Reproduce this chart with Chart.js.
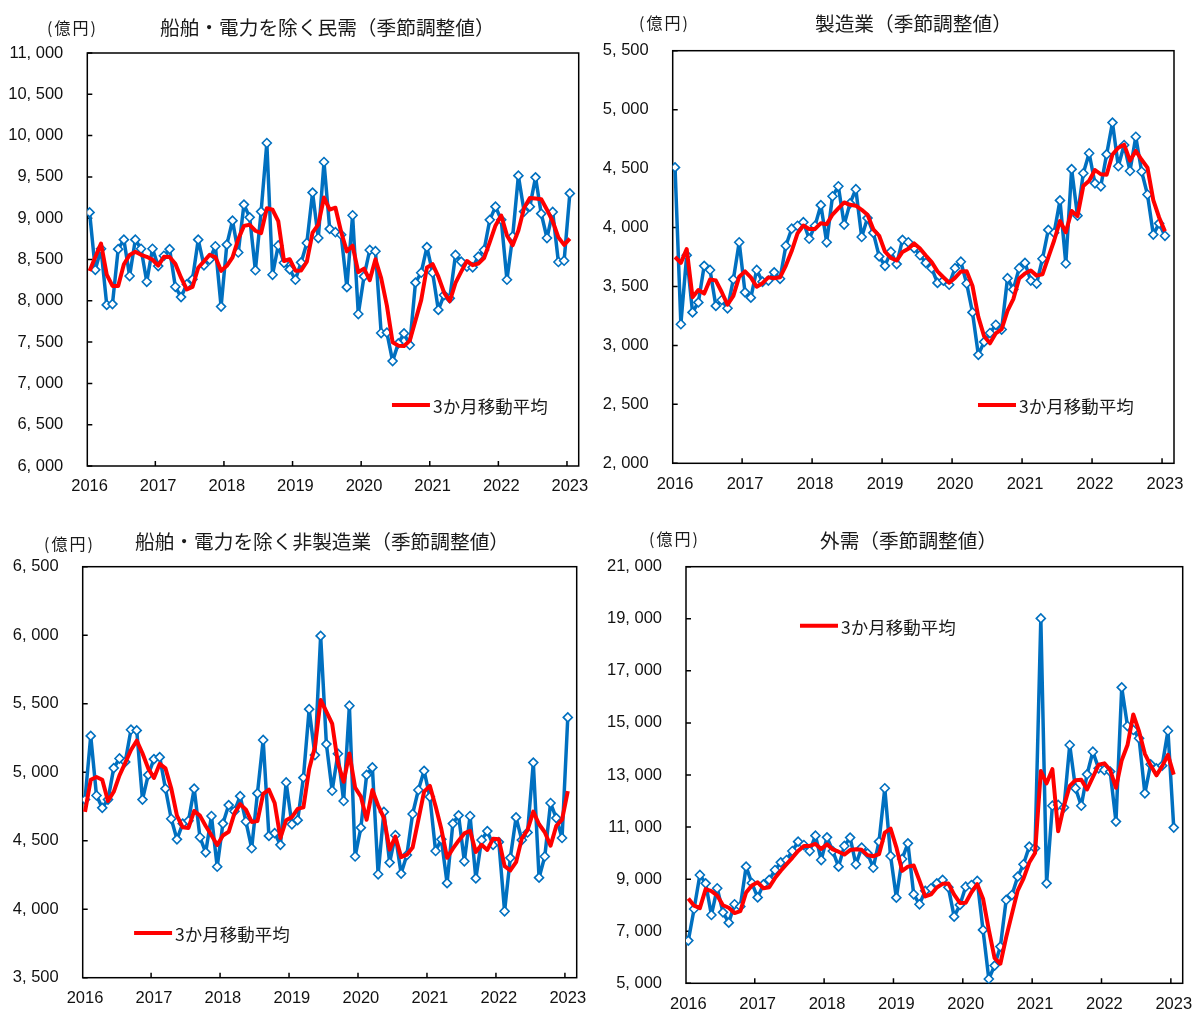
<!DOCTYPE html>
<html lang="ja">
<head>
<meta charset="utf-8">
<title>機械受注</title>
<script src="https://cdn.jsdelivr.net/npm/chart.js@4.4.1/dist/chart.umd.min.js"></script>
<style>
  body { margin: 0; background: #fff; }
  #page { position: relative; width: 1194px; height: 1009px; overflow: hidden; background: #fff; }
  canvas { position: absolute; }
  .title, .unit { position: absolute; white-space: nowrap; line-height: 1; color: #1a1a1a;
                  font-family: "Noto Sans CJK JP", sans-serif; z-index: 2; }
  .title { font-size: 19.7px; }
  .unit { font-size: 16px; letter-spacing: 2px; }
</style>
</head>
<body>
<div id="page">
  <div class="unit" style="left:47px;top:19px">(億円)</div>
  <div class="title" style="left:160px;top:17px">船舶・電力を除く民需（季節調整値）</div>
  <div class="unit" style="left:639px;top:14px">(億円)</div>
  <div class="title" style="left:815px;top:13px">製造業（季節調整値）</div>
  <div class="unit" style="left:44px;top:535px">(億円)</div>
  <div class="title" style="left:135px;top:531px">船舶・電力を除く非製造業（季節調整値）</div>
  <div class="unit" style="left:649px;top:530px">(億円)</div>
  <div class="title" style="left:820px;top:530px">外需（季節調整値）</div>

  <canvas id="c1" width="597" height="480" style="left:0;top:30px"></canvas>
  <canvas id="c2" width="597" height="480" style="left:597px;top:30px"></canvas>
  <canvas id="c3" width="597" height="469" style="left:0;top:540px"></canvas>
  <canvas id="c4" width="597" height="469" style="left:597px;top:540px"></canvas>
</div>
<script>
// 2016年1月〜2023年1月の月次（85か月）
const years = ['2016', '2017', '2018', '2019', '2020', '2021', '2022', '2023'];
const avgLabel = '3か月移動平均';

// 船舶・電力を除く民需
const minjuValues = [
  9070, 8375, 8630, 7950, 7960, 8625, 8740, 8300, 8740, 8630, 8230, 8630,
  8420, 8545, 8625, 8170, 8045, 8200, 8260, 8740, 8430, 8500, 8660, 7930,
  8680, 8970, 8585, 9165, 9010, 8370, 9080, 9910, 8315, 8670, 8460, 8380,
  8255, 8465, 8700, 9310, 8760, 9680, 8870, 8830, 8800, 8165, 9035, 7840,
  8295, 8615, 8600, 7610, 7615, 7270, 7485, 7605, 7465, 8220, 8340, 8650,
  8340, 7890, 8070, 8030, 8555, 8475, 8415, 8405, 8535, 8615, 8980, 9140,
  8980, 8255, 8780, 9515, 9080, 9140, 9495, 9055, 8760, 9075, 8470, 8485,
  9300
];
const minjuAvg = [
  8360, 8530, 8692, 8318, 8180, 8178, 8442, 8555, 8593, 8557, 8533, 8497,
  8427, 8532, 8530, 8447, 8280, 8138, 8168, 8400, 8477, 8557, 8530, 8363,
  8423, 8527, 8745, 8907, 8920, 8848, 8820, 9120, 9102, 8965, 8482, 8503,
  8365, 8367, 8473, 8825, 8923, 9250, 9103, 9127, 8833, 8598, 8667, 8347,
  8390, 8250, 8503, 8275, 7942, 7498, 7457, 7453, 7518, 7763, 8008, 8403,
  8443, 8293, 8100, 7997, 8218, 8353, 8482, 8432, 8452, 8518, 8710, 8912,
  9033, 8792, 8672, 8850, 9125, 9245, 9238, 9230, 9103, 8963, 8768, 8677,
  8752
];

// 製造業
const seizoValues = [
  4510, 3180, 3765, 3280, 3365, 3675, 3640, 3335, 3385, 3315, 3560, 3875,
  3450, 3405, 3640, 3540, 3550, 3620, 3565, 3845, 3990, 4015, 4045, 3905,
  4015, 4190, 3875, 4265, 4350, 4025, 4205, 4325, 3920, 4080, 3955, 3755,
  3675, 3795, 3690, 3895, 3875, 3825, 3765, 3700, 3655, 3530, 3550, 3515,
  3655, 3710, 3525, 3280, 2920, 3030, 3105, 3175, 3135, 3570, 3475, 3655,
  3700, 3550, 3525, 3735, 3980, 3955, 4230, 3695, 4495, 4100, 4460, 4630,
  4375, 4350, 4620, 4890, 4520, 4700, 4480, 4770, 4475, 4280, 3940, 4035,
  3930
];
const seizoAvg = [
  3750, 3700, 3818, 3408, 3470, 3440, 3560, 3550, 3453, 3345, 3420, 3583,
  3628, 3577, 3498, 3528, 3577, 3570, 3578, 3677, 3800, 3950, 4017, 3988,
  3988, 4037, 4027, 4110, 4163, 4213, 4193, 4185, 4150, 4108, 3985, 3930,
  3795, 3742, 3720, 3793, 3820, 3865, 3822, 3763, 3707, 3628, 3578, 3532,
  3573, 3627, 3630, 3505, 3242, 3077, 3018, 3103, 3138, 3293, 3393, 3567,
  3610, 3635, 3592, 3603, 3747, 3890, 4055, 3960, 4140, 4097, 4352, 4397,
  4488, 4452, 4448, 4620, 4677, 4703, 4567, 4650, 4575, 4508, 4232, 4085,
  3968
];

// 船舶・電力を除く非製造業
const hiseizoValues = [
  4800, 5265, 4830, 4740, 4800, 5030, 5100, 5075, 5310, 5305, 4800, 4980,
  5095, 5110, 4880, 4660, 4510, 4625, 4645, 4880, 4525, 4415, 4680, 4310,
  4625, 4760, 4715, 4825, 4640, 4445, 4845, 5235, 4535, 4555, 4470, 4925,
  4620, 4650, 4960, 5460, 5125, 5995, 5205, 4865, 5135, 4790, 5485, 4385,
  4595, 4980, 5035, 4255, 4710, 4340, 4540, 4260, 4395, 4695, 4870, 5010,
  4820, 4425, 4510, 4190, 4625, 4685, 4350, 4680, 4225, 4505, 4570, 4470,
  4490, 3985, 4375, 4670, 4505, 4560, 5070, 4230, 4385, 4775, 4665, 4520,
  5400
];
const hiseizoAvg = [
  4710, 4945, 4965, 4945, 4790, 4857, 4977, 5068, 5162, 5230, 5138, 5028,
  4958, 5062, 5028, 4883, 4683, 4598, 4593, 4717, 4683, 4607, 4540, 4468,
  4538, 4565, 4700, 4767, 4727, 4637, 4643, 4842, 4872, 4775, 4520, 4650,
  4672, 4732, 4743, 5023, 5182, 5527, 5442, 5355, 5068, 4930, 5137, 4887,
  4822, 4653, 4870, 4757, 4667, 4435, 4530, 4380, 4398, 4450, 4653, 4858,
  4900, 4752, 4585, 4375, 4442, 4500, 4553, 4572, 4418, 4470, 4433, 4515,
  4510, 4315, 4283, 4343, 4517, 4578, 4712, 4620, 4562, 4463, 4608, 4653,
  4862
];

// 外需
const gaijuValues = [
  6640, 7855, 9160, 8840, 7625, 8650, 7725, 7330, 8035, 7950, 9480, 8850,
  8300, 8800, 8970, 9350, 9645, 9735, 10080, 10440, 10310, 10080, 10670, 9735,
  10605, 10080, 9480, 10275, 10595, 9570, 10210, 9990, 9440, 10440, 12490, 9890,
  8290, 9775, 10375, 8420, 8035, 8550, 8650, 8840, 8970, 8685, 7560, 8010,
  8710, 8775, 8930, 7050, 5165, 5680, 6410, 8200, 8390, 9095, 9570, 10250,
  10185, 19015, 8840, 11820, 11850, 11750, 14150, 12490, 11820, 13025, 13895, 13255,
  13190, 13130, 11210, 16365, 14880, 14730, 14410, 12295, 13410, 13255, 13360, 14700,
  10980
];
const gaijuAvg = [
  8260, 7980, 7885, 8618, 8541, 8371, 7999, 7901, 7697, 7772, 8488, 8760,
  8877, 8650, 8690, 9040, 9322, 9577, 9820, 10085, 10277, 10277, 10353, 10162,
  10337, 10140, 10055, 9945, 10117, 10147, 10125, 9923, 9880, 9957, 10790, 10940,
  10223, 9318, 9480, 9523, 8943, 8335, 8412, 8680, 8820, 8832, 8405, 8085,
  8093, 8498, 8805, 8252, 7048, 5965, 5752, 6763, 7667, 8562, 9018, 9638,
  10002, 13150, 12680, 13225, 10837, 11807, 12583, 12797, 12820, 12445, 12913, 13392,
  13447, 13192, 12510, 13568, 14152, 15325, 14673, 13812, 13372, 12987, 13342, 13772,
  13013
];

const tickFont = { family: "'Liberation Sans', Arial, sans-serif", size: 16.5 };
const BLUE = '#0070C0';
const RED = '#FF0000';

const toPoints = arr => arr.map((y, x) => ({ x, y }));
const fmt = v => v.toLocaleString('en-US').replace(',', ', ');

// 枠線と内向きの目盛り
const framePlugin = {
    id: 'frame',
    beforeDatasetsDraw(chart) {
        const { ctx, chartArea: a, scales: { x, y } } = chart;
        ctx.save();
        ctx.strokeStyle = '#000';
        ctx.lineWidth = 1.5;
        ctx.strokeRect(a.left, a.top, a.width, a.height);
        ctx.beginPath();
        y.ticks.forEach(t => {
            const py = y.getPixelForValue(t.value);
            ctx.moveTo(a.left, py);
            ctx.lineTo(a.left + 5, py);
        });
        for (let k = 1; k < years.length; k++) {
            const px = x.getPixelForValue(12 * k - 0.5);
            ctx.moveTo(px, a.bottom);
            ctx.lineTo(px, a.bottom - 5);
        }
        ctx.stroke();
        ctx.restore();
    }
};

// グラフ内の凡例
const insideLegend = {
    id: 'insideLegend',
    afterDatasetsDraw(chart, args, opts) {
        const { ctx, chartArea: a } = chart;
        const ds = chart.data.datasets[0];
        const x0 = a.left + a.width * opts.fx;
        const y0 = a.top + a.height * opts.fy;
        ctx.save();
        ctx.strokeStyle = ds.borderColor;
        ctx.lineWidth = 4;
        ctx.beginPath();
        ctx.moveTo(x0, y0);
        ctx.lineTo(x0 + 38, y0);
        ctx.stroke();
        ctx.fillStyle = '#1a1a1a';
        ctx.font = '17.5px "Noto Sans CJK JP", sans-serif';
        ctx.textBaseline = 'middle';
        ctx.fillText(ds.label, x0 + 41, y0 + 1);
        ctx.restore();
    }
};

function makeChart(id, cfg) {
    const ctx = document.getElementById(id).getContext('2d');
    return new Chart(ctx, {
        type: 'line',
        data: {
            datasets: [
                {
                    label: avgLabel,
                    data: toPoints(cfg.avg),
                    borderColor: RED,
                    borderWidth: 4,
                    pointRadius: 0,
                    tension: 0,
                    borderJoinStyle: 'round',
                    order: 0
                },
                {
                    label: cfg.name,
                    data: toPoints(cfg.values),
                    borderColor: BLUE,
                    borderWidth: 3.5,
                    borderJoinStyle: 'round',
                    pointStyle: 'rectRot',
                    pointRadius: 4.5,
                    pointBorderWidth: 1.6,
                    pointBorderColor: BLUE,
                    pointBackgroundColor: '#fff',
                    tension: 0,
                    order: 1
                }
            ]
        },
        options: {
            responsive: false,
            animation: false,
            devicePixelRatio: 1,
            layout: { padding: { top: cfg.padTop, right: cfg.padRight, left: 0, bottom: 0 } },
            plugins: {
                legend: { display: false },
                tooltip: { enabled: false },
                insideLegend: { fx: cfg.legend[0], fy: cfg.legend[1] }
            },
            scales: {
                x: {
                    type: 'linear',
                    min: -0.4,
                    max: 85.55,
                    grid: { display: false, drawTicks: false },
                    border: { display: false },
                    afterBuildTicks: s => { s.ticks = years.map((_, k) => ({ value: 12 * k })); },
                    afterFit: s => { s.height = cfg.xH; s.paddingLeft = 0; s.paddingRight = 0; },
                    ticks: {
                        font: tickFont,
                        color: '#111',
                        padding: 11,
                        maxRotation: 0,
                        autoSkip: false,
                        callback: v => years[v / 12]
                    }
                },
                y: {
                    min: cfg.min,
                    max: cfg.max,
                    grid: { display: false, drawTicks: false },
                    border: { display: false },
                    afterFit: s => { s.width = cfg.yW; s.paddingTop = 0; s.paddingBottom = 0; },
                    ticks: {
                        stepSize: cfg.step,
                        font: tickFont,
                        color: '#111',
                        padding: 24,
                        callback: v => fmt(v)
                    }
                }
            }
        },
        plugins: [framePlugin, insideLegend]
    });
}

makeChart('c1', { name: '船舶・電力を除く民需', values: minjuValues, avg: minjuAvg,
    min: 6000, max: 11000, step: 500, yW: 87.3, xH: 44, padTop: 23, padRight: 18.3, legend: [0.62, 0.852] });
makeChart('c2', { name: '製造業', values: seizoValues, avg: seizoAvg,
    min: 2000, max: 5500, step: 500, yW: 75.7, xH: 46.7, padTop: 20.7, padRight: 20, legend: [0.609, 0.859] });
makeChart('c3', { name: '船舶・電力を除く非製造業', values: hiseizoValues, avg: hiseizoAvg,
    min: 3500, max: 6500, step: 500, yW: 82.7, xH: 31.3, padTop: 26.7, padRight: 20.3, legend: [0.104, 0.891] });
makeChart('c4', { name: '外需', values: gaijuValues, avg: gaijuAvg,
    min: 5000, max: 21000, step: 2000, yW: 89, xH: 25.7, padTop: 26.7, padRight: 11.3, legend: [0.2295, 0.142] });
</script>
</body>
</html>
